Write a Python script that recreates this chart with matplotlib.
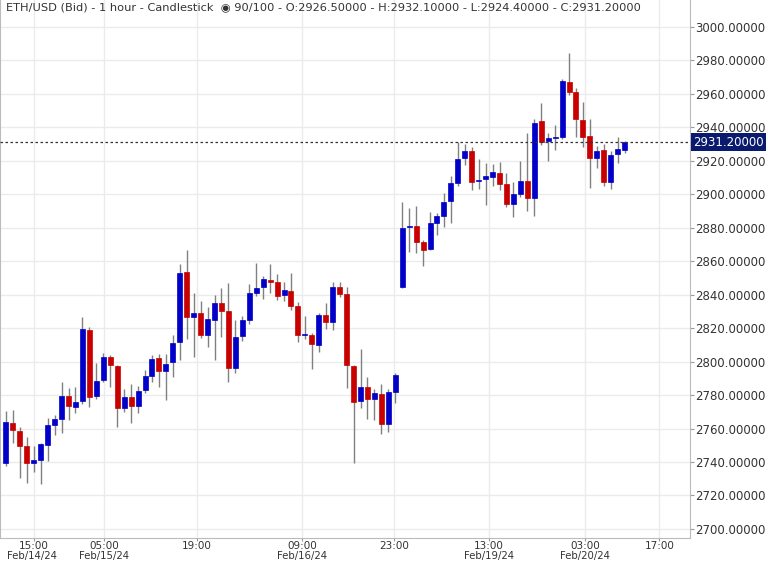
import matplotlib
matplotlib.use('Agg')
import matplotlib.pyplot as plt
import numpy as np

# hourly candles, values
opens = [2739.4, 2763.3, 2758.6, 2749.6, 2739.4, 2741.2, 2750.2, 2762.2, 2765.7, 2779.5,
         2772.9, 2776.5, 2818.9, 2779.5, 2789.0, 2802.8, 2797.4, 2772.3, 2778.9, 2773.5,
         2783.1, 2791.4, 2802.2, 2794.4, 2799.8, 2811.8, 2853.6, 2826.7, 2829.1, 2815.9,
         2824.9, 2835.1, 2830.3, 2796.2, 2815.3, 2824.9, 2841.0, 2844.6, 2848.8, 2847.6,
         2839.8, 2842.2, 2833.3, 2815.9, 2815.9, 2810.0, 2827.9, 2823.7, 2844.6, 2840.4,
         2797.4, 2776.5, 2784.9, 2777.7, 2780.7, 2762.8, 2781.9, 2844.6, 2880.5, 2881.1,
         2871.5, 2867.3, 2882.9, 2887.1, 2896.0, 2906.8, 2921.7, 2925.9, 2908.0, 2909.2,
         2910.4, 2912.8, 2906.2, 2894.2, 2900.2, 2908.0, 2897.8, 2943.8, 2931.9, 2933.7,
         2934.3, 2967.1, 2961.2, 2944.4, 2934.9, 2921.7, 2926.5, 2907.4, 2924.1, 2926.5]
highs = [2770.5, 2771.1, 2761.0, 2755.0, 2749.6, 2751.4, 2766.3, 2768.1, 2787.9, 2784.3,
         2784.9, 2826.7, 2820.7, 2799.2, 2805.2, 2804.0, 2798.0, 2783.7, 2786.7, 2785.5,
         2795.0, 2804.0, 2804.6, 2804.6, 2815.9, 2858.4, 2866.7, 2841.0, 2836.3, 2832.7,
         2839.8, 2844.0, 2847.0, 2824.9, 2827.3, 2846.4, 2859.0, 2851.2, 2858.4, 2852.4,
         2847.6, 2853.0, 2835.7, 2827.3, 2817.1, 2829.1, 2835.1, 2847.6, 2847.6, 2844.6,
         2798.0, 2807.6, 2790.8, 2783.7, 2786.7, 2783.7, 2793.2, 2895.4, 2891.8, 2893.0,
         2872.7, 2889.4, 2888.8, 2900.8, 2911.0, 2931.3, 2930.1, 2928.3, 2921.1, 2918.7,
         2918.1, 2919.3, 2912.8, 2907.4, 2919.9, 2936.7, 2945.0, 2954.6, 2936.7, 2941.4,
         2968.9, 2984.5, 2963.5, 2955.2, 2945.0, 2928.9, 2930.1, 2925.9, 2934.3, 2932.1]
lows = [2737.7, 2751.4, 2730.5, 2727.5, 2734.1, 2726.9, 2740.6, 2756.2, 2757.4, 2765.1,
        2769.3, 2774.7, 2772.9, 2777.7, 2787.9, 2784.9, 2761.0, 2769.9, 2763.3, 2769.3,
        2781.3, 2787.9, 2784.9, 2777.1, 2790.8, 2801.0, 2813.5, 2802.8, 2814.1, 2808.8,
        2801.0, 2814.7, 2787.9, 2793.2, 2812.4, 2822.5, 2839.2, 2837.5, 2841.0, 2836.9,
        2836.3, 2830.9, 2811.8, 2813.5, 2795.6, 2805.8, 2819.5, 2818.9, 2838.6, 2784.3,
        2739.4, 2772.3, 2765.7, 2765.1, 2756.8, 2758.0, 2775.3, 2844.0, 2865.5, 2864.9,
        2857.2, 2866.7, 2875.7, 2880.5, 2882.9, 2905.0, 2917.5, 2902.6, 2903.2, 2893.6,
        2905.0, 2902.6, 2892.4, 2886.5, 2898.4, 2890.0, 2887.1, 2929.5, 2919.9, 2926.5,
        2933.1, 2959.4, 2934.3, 2928.3, 2903.8, 2915.7, 2905.0, 2903.2, 2918.7, 2924.4]
closes = [2763.9, 2759.2, 2749.6, 2739.4, 2741.2, 2750.8, 2762.2, 2765.7, 2779.5, 2773.5,
          2775.9, 2819.5, 2778.9, 2788.4, 2802.8, 2798.0, 2772.3, 2778.9, 2773.5, 2782.5,
          2791.4, 2801.6, 2794.4, 2798.6, 2811.2, 2853.0, 2826.7, 2829.1, 2815.9, 2825.5,
          2835.1, 2830.3, 2796.2, 2814.7, 2824.9, 2841.0, 2844.0, 2849.4, 2847.6, 2839.2,
          2842.8, 2833.3, 2815.9, 2816.5, 2810.6, 2827.9, 2823.7, 2844.6, 2840.4, 2798.0,
          2775.9, 2784.9, 2777.7, 2781.3, 2762.8, 2781.9, 2792.0, 2879.9, 2881.1, 2871.5,
          2866.7, 2882.9, 2887.1, 2895.4, 2906.8, 2921.1, 2925.9, 2907.4, 2908.6, 2911.0,
          2913.3, 2906.2, 2894.2, 2900.2, 2908.0, 2897.8, 2942.6, 2931.3, 2933.7, 2934.3,
          2967.7, 2961.2, 2945.0, 2934.3, 2921.7, 2925.9, 2907.4, 2923.5, 2927.1, 2931.2]

time_ticks = [4.03, 14.1, 27.5, 42.6, 55.8, 69.5, 83.3, 94.0]
time_labels = ['15:00', '05:00', '19:00', '09:00', '23:00', '13:00', '03:00', '17:00']
date_pos = [0.2, 14.1, 42.6, 69.5, 83.3]
date_labels = ['Feb/14/24', 'Feb/15/24', 'Feb/16/24', 'Feb/19/24', 'Feb/20/24']
price_ticks = np.arange(2700, 3001, 20)
last_price = 2931.2

UP = '#0000c8'
DOWN = '#c80000'

fig = plt.figure(figsize=(7.68, 5.62), dpi=100)
ax = fig.add_axes([0.0, (562 - 538) / 562, 690 / 768, 538 / 562])

idx = np.arange(len(opens))
for i in idx:
    o, h, l, c = opens[i], highs[i], lows[i], closes[i]
    col = UP if c >= o else DOWN
    ax.vlines(i, l, h, color='#808080', linewidth=1.0, zorder=2)
    bot = min(o, c)
    hgt = max(abs(c - o), 0.6)
    ax.bar(i, hgt, bottom=bot, width=0.72, color=col, edgecolor=col, linewidth=0.5, zorder=3)

ax.axhline(last_price, color='#333333', linestyle=(0, (2, 2)), linewidth=0.9, zorder=4)

ax.set_xlim(-0.86, 98.4)
ax.set_ylim(2694.6, 3016.1)
ax.yaxis.tick_right()
ax.set_yticks(price_ticks)
ax.set_yticklabels(['%.5f' % v for v in price_ticks], fontsize=8.5, color='#333333')
ax.set_xticks(time_ticks)
ax.set_xticklabels(time_labels, fontsize=7.5, color='#333333')
ax.tick_params(axis='x', length=2, color='#999999', pad=0.5)
ax.tick_params(axis='y', length=3, color='#999999', pad=1)
ax.grid(True, color='#ebebeb', linewidth=1.0, zorder=0)
ax.spines['top'].set_visible(False)
for s in ['left', 'right', 'bottom']:
    ax.spines[s].set_color('#bbbbbb')

for p, d in zip(date_pos, date_labels):
    ax.text(p, -0.0245, d, transform=ax.get_xaxis_transform(),
            ha='left' if p < 1 else 'center', va='top', fontsize=7.3, color='#333333')

ax.text(1.005, last_price, '%.5f' % last_price, transform=ax.get_yaxis_transform(),
        ha='left', va='center', fontsize=8.5, color='white', zorder=5,
        bbox=dict(boxstyle='square,pad=0.2', facecolor='#0a1a6e', edgecolor='none'))

ax.text(0.008, 0.995, 'ETH/USD (Bid) - 1 hour - Candlestick  \u25c9 90/100 - O:2926.50000 - '
        'H:2932.10000 - L:2924.40000 - C:2931.20000',
        transform=ax.transAxes, ha='left', va='top', fontsize=8.2, color='#333333')

fig.savefig('out.png', dpi=100)
